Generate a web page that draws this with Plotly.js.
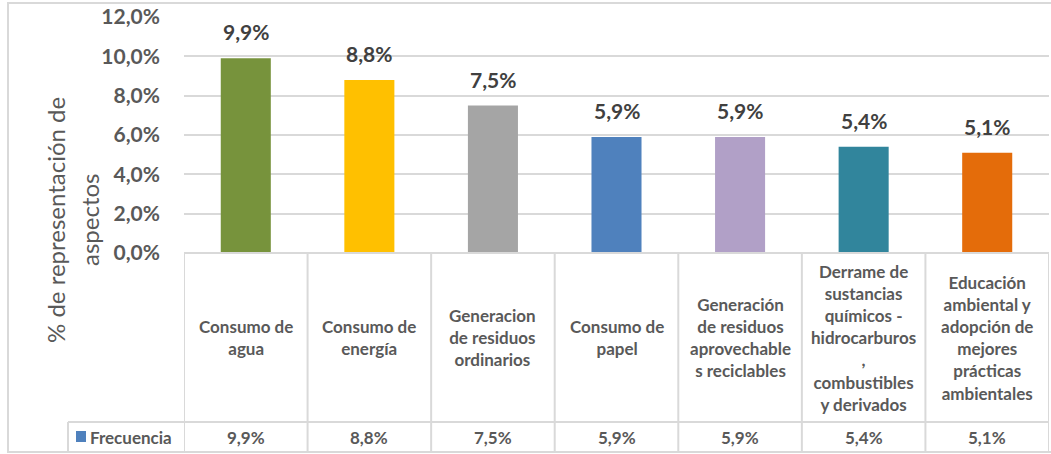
<!DOCTYPE html>
<html>
<head>
<meta charset="utf-8">
<script src="https://cdn.plot.ly/plotly-3.0.1.min.js"></script>
<style>
  html, body { margin: 0; padding: 0; background: #ffffff; }
  #chart { width: 1051px; height: 454px; }
</style>
</head>
<body>
<div id="chart"></div>
<script>
// ---- data ----
const categories = [
  "Consumo de agua",
  "Consumo de energía",
  "Generacion de residuos ordinarios",
  "Consumo de papel",
  "Generación de residuos aprovechables reciclables",
  "Derrame de sustancias químicos - hidrocarburos, combustibles y derivados",
  "Educación ambiental y adopción de mejores prácticas ambientales"
];
const tickLabels = [
  "Consumo de<br>agua",
  "Consumo de<br>energía",
  "Generacion<br>de residuos<br>ordinarios",
  "Consumo de<br>papel",
  "Generación<br>de residuos<br>aprovechable<br>s reciclables",
  "Derrame de<br>sustancias<br>químicos -<br>hidrocarburos<br>,<br>combustibles<br>y derivados",
  "Educación<br>ambiental y<br>adopción de<br>mejores<br>prácticas<br>ambientales"
];
const frecuencia = [0.099, 0.088, 0.075, 0.059, 0.059, 0.054, 0.051];
const barColors = ["#77933C", "#FFC000", "#A5A5A5", "#4F81BD", "#B1A0C7", "#31859C", "#E46C0A"];
const seriesName = "Frecuencia";
const yTitleLines = ["% de representación de", "aspectos"];

// ---- layout geometry (pixels) ----
const W = 1051, H = 454;
const M = { l: 184, r: 2, t: 17, b: 201 };
const PW = W - M.l - M.r, PH = H - M.t - M.b;
const px = x => (x - M.l) / PW;           // pixel x -> paper x
const py = y => (H - M.b - y) / PH;       // pixel y -> paper y

const fmt = v => (v * 100).toFixed(1).replace(".", ",") + "%";
const FONT = "Lato, 'Open Sans', sans-serif";
const gridCol = "#D9D9D9";

const xs = categories.map((c, i) => i);

const trace = {
  type: "bar",
  x: xs,
  y: frecuencia,
  name: seriesName,
  marker: { color: barColors, line: { width: 0 } },
  width: 0.405,
  hoverinfo: "skip"
};

const annotations = [];
// data labels above bars
frecuencia.forEach((v, i) => {
  annotations.push({
    x: xs[i], y: v, xref: "x", yref: "y", text: fmt(v), showarrow: false,
    yanchor: "bottom", yshift: 12,
    font: { family: FONT, size: 21, color: "#404040", weight: "bold" }
  });
});
// category labels in table header row
tickLabels.forEach((t, i) => {
  annotations.push({
    x: xs[i], y: py(337.5), xref: "x", yref: "paper", text: t, showarrow: false,
    yanchor: "middle", xanchor: "center", align: "center",
    font: { family: FONT, size: 17, color: "#595959", weight: "bold" }
  });
});
// value row
frecuencia.forEach((v, i) => {
  annotations.push({
    x: xs[i], y: py(437), xref: "x", yref: "paper", text: fmt(v), showarrow: false,
    yanchor: "middle",
    font: { family: FONT, size: 17, color: "#595959", weight: "bold" }
  });
});
// legend key text
annotations.push({
  x: px(88), y: py(437), xref: "paper", yref: "paper", text: seriesName, showarrow: false,
  xanchor: "left", yanchor: "middle",
  font: { family: FONT, size: 17, color: "#595959", weight: "bold" }
});
// y-axis title (two lines)
const yTitleX = [55, 89];
yTitleLines.forEach((t, i) => {
  annotations.push({
    x: px(yTitleX[i]), y: py(220), xref: "paper", yref: "paper", text: t, showarrow: false,
    textangle: -90, xanchor: "center", yanchor: "middle",
    font: { family: FONT, size: 24, color: "#595959" }
  });
});

const shapes = [];
const lineStyle = { color: gridCol, width: 2 };
// outer border
shapes.push({ type: "rect", xref: "paper", yref: "paper",
  x0: px(8), x1: px(1052), y0: py(452), y1: py(3), line: lineStyle, layer: "below" });
// table: vertical column lines
for (let k = 0; k <= categories.length; k++) {
  shapes.push({ type: "line", xref: "x", yref: "paper",
    x0: k - 0.5, x1: k - 0.5, y0: 0, y1: py(452), line: lineStyle });
}
// table top line (axis base)
shapes.push({ type: "line", xref: "x", yref: "paper",
  x0: -0.5, x1: categories.length - 0.5, y0: 0, y1: 0, line: lineStyle });
// row separator (from legend cell)
shapes.push({ type: "line", xref: "paper", yref: "paper",
  x0: px(68), x1: 1, y0: py(422), y1: py(422), line: lineStyle });
// legend cell left line
shapes.push({ type: "line", xref: "paper", yref: "paper",
  x0: px(68), x1: px(68), y0: py(422), y1: py(452), line: lineStyle });
// legend key square
shapes.push({ type: "rect", xref: "paper", yref: "paper",
  x0: px(76), x1: px(86), y0: py(442), y1: py(431),
  fillcolor: barColors[3], line: { width: 0 } });

const layout = {
  width: W, height: H,
  margin: M,
  paper_bgcolor: "#ffffff", plot_bgcolor: "#ffffff",
  showlegend: false,
  separators: ",.",
  bargap: 0.6,
  xaxis: {
    type: "linear", range: [-0.5, categories.length - 0.5],
    showticklabels: false, showgrid: false, zeroline: false, showline: false, ticks: ""
  },
  yaxis: {
    range: [0, 0.12], dtick: 0.02, tick0: 0, tickformat: ".1%",
    showgrid: true, gridcolor: gridCol, gridwidth: 2,
    zeroline: false, showline: false, ticks: "",
    ticklabelstandoff: 23,
    tickfont: { family: FONT, size: 21, color: "#595959", weight: "bold" }
  },
  annotations: annotations,
  shapes: shapes
};

Plotly.newPlot("chart", [trace], layout, { displayModeBar: false, staticPlot: true });
</script>
</body>
</html>
